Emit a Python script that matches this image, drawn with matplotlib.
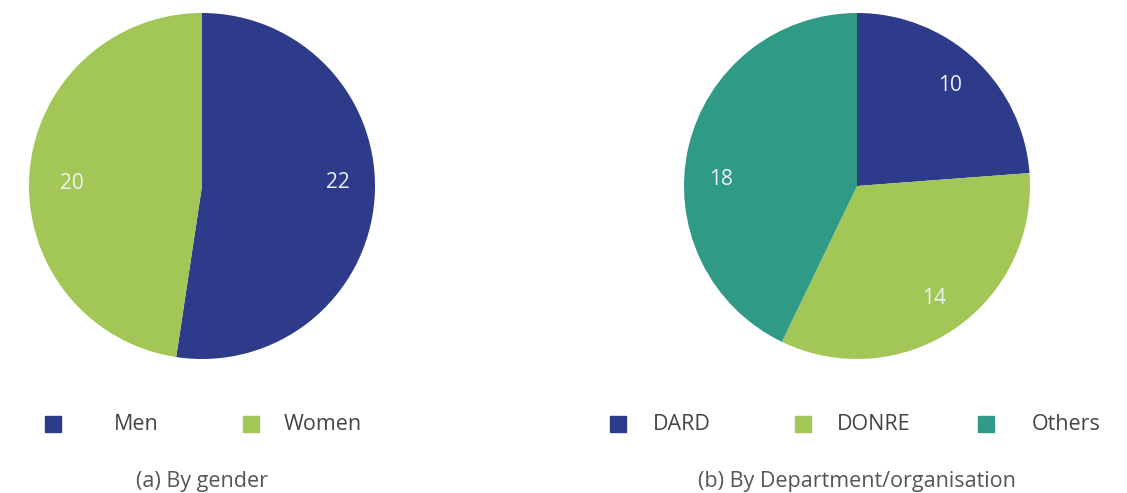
import matplotlib.pyplot as plt
from matplotlib.patches import Rectangle

plt.rcParams['font.family'] = ['Open Sans', 'DejaVu Sans']

gender = ['Men', 'Women']
gender_vals = [22, 20]
dept = ['DARD', 'DONRE', 'Others']
dept_vals = [10, 14, 18]
titles = ['(a) By gender', '(b) By Department/organisation']

navy = '#2e3a8a'
green = '#a3c756'
teal = '#2f9a85'

W, H = 1127, 493
fig = plt.figure(figsize=(W / 100, H / 100), dpi=100)


def px_axes(cx, cy, r):
    return fig.add_axes([(cx - r) / W, (H - cy - r) / H, 2 * r / W, 2 * r / H])


def draw_pie(ax, vals, cols, label_pos=None):
    _, texts = ax.pie(vals, colors=cols, startangle=90, counterclock=False, radius=1,
                      labels=[str(v) for v in vals], labeldistance=0.79,
                      textprops=dict(color='#eef2f6', fontsize=15, ha='center', va='center'))
    # the source places some value labels nearer the horizontal
    if label_pos:
        for i, p in label_pos.items():
            texts[i].set_position(p)
    ax.set_xlim(-1, 1)
    ax.set_ylim(-1, 1)
    ax.set_aspect('equal')
    ax.axis('off')


ax1 = px_axes(202, 186, 173)
draw_pie(ax1, gender_vals, [navy, green], {0: (0.786, 0.023), 1: (-0.75, 0.017)})
ax2 = px_axes(857, 186, 173)
draw_pie(ax2, dept_vals, [navy, green, teal], {2: (-0.786, 0.04)})


def legend_item(x_mark, x_text, label, col):
    y = 424
    fig.patches.append(Rectangle((x_mark / W, (H - y - 8) / H), 16 / W, 16 / H,
                                 transform=fig.transFigure, color=col))
    fig.text(x_text / W, (H - y) / H, label, fontsize=15.5, color='#444444',
             ha='left', va='center')


legend_item(45, 114, gender[0], navy)
legend_item(243, 284, gender[1], green)
legend_item(610, 653, dept[0], navy)
legend_item(795, 837, dept[1], green)
legend_item(978, 1032, dept[2], teal)

fig.text(202 / W, (H - 481) / H, titles[0], fontsize=15.5, color='#555555',
         ha='center', va='center')
fig.text(857 / W, (H - 481) / H, titles[1], fontsize=15.5, color='#555555',
         ha='center', va='center')

fig.savefig('out.png', dpi=100)
